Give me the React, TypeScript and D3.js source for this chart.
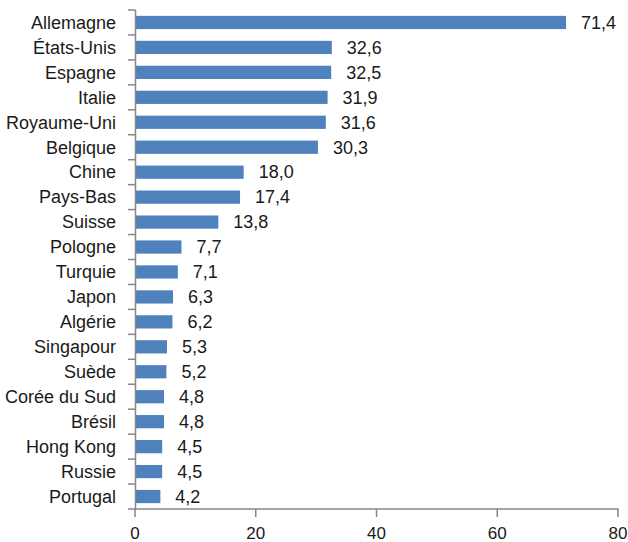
import { useRef, useEffect } from 'react';
import * as d3 from 'd3';

const countries = [
  'Allemagne', 'États-Unis', 'Espagne', 'Italie', 'Royaume-Uni', 'Belgique',
  'Chine', 'Pays-Bas', 'Suisse', 'Pologne', 'Turquie', 'Japon', 'Algérie',
  'Singapour', 'Suède', 'Corée du Sud', 'Brésil', 'Hong Kong', 'Russie', 'Portugal',
];
const values = [71.4, 32.6, 32.5, 31.9, 31.6, 30.3, 18.0, 17.4, 13.8, 7.7, 7.1, 6.3, 6.2, 5.3, 5.2, 4.8, 4.8, 4.5, 4.5, 4.2];
const xTicks = [0, 20, 40, 60, 80];

const width = 628;
const height = 542;
const font = '"Liberation Sans Narrow", "Arial Narrow", "Liberation Sans", sans-serif';

export default function App() {
  const svgRef = useRef<SVGSVGElement>(null);

  useEffect(() => {
    const svg = d3.select(svgRef.current);
    svg.selectAll('*').remove();

    const x = d3.scaleLinear().domain([0, 80]).range([135, 618]);
    const y = d3.scaleBand().domain(countries).range([10, 509]).paddingInner(0.47).paddingOuter(0.235);
    const axisColor = '#868686';

    // bars
    svg.append('g')
      .selectAll('rect')
      .data(countries)
      .join('rect')
      .attr('x', x(0))
      .attr('y', (d) => y(d)!)
      .attr('width', (d, i) => x(values[i]) - x(0))
      .attr('height', y.bandwidth())
      .attr('fill', '#4f81bd');

    // value labels
    svg.append('g')
      .selectAll('text')
      .data(countries)
      .join('text')
      .attr('x', (d, i) => x(values[i]) + 15)
      .attr('y', (d) => y(d)! + y.bandwidth() / 2)
      .attr('dy', '0.35em')
      .attr('font-family', font)
      .attr('font-size', 18)
      .attr('fill', '#1a1a1a')
      .text((d, i) => d3.format('.1f')(values[i]).replace('.', ','));

    // category labels
    svg.append('g')
      .selectAll('text')
      .data(countries)
      .join('text')
      .attr('x', 116)
      .attr('y', (d) => y(d)! + y.bandwidth() / 2)
      .attr('dy', '0.35em')
      .attr('text-anchor', 'end')
      .attr('font-family', font)
      .attr('font-size', 18)
      .attr('fill', '#1a1a1a')
      .text((d) => d);

    // y axis line + ticks at band edges
    const edges = d3.range(countries.length + 1).map((i) => 10 + i * y.step());
    svg.append('line')
      .attr('x1', 135.5).attr('x2', 135.5)
      .attr('y1', 10).attr('y2', 509)
      .attr('stroke', axisColor).attr('stroke-width', 1.5);
    svg.append('g')
      .selectAll('line')
      .data(edges)
      .join('line')
      .attr('x1', 128).attr('x2', 135.5)
      .attr('y1', (d) => d).attr('y2', (d) => d)
      .attr('stroke', axisColor).attr('stroke-width', 1.5);

    // x axis
    svg.append('line')
      .attr('x1', 135).attr('x2', 618.5)
      .attr('y1', 509).attr('y2', 509)
      .attr('stroke', axisColor).attr('stroke-width', 1.5);
    const xt = svg.append('g')
      .selectAll('g')
      .data(xTicks)
      .join('g')
      .attr('transform', (d) => `translate(${x(d)},0)`);
    xt.append('line')
      .attr('y1', 509).attr('y2', 517)
      .attr('stroke', axisColor).attr('stroke-width', 1.5);
    xt.append('text')
      .attr('y', 533)
      .attr('dy', '0.35em')
      .attr('text-anchor', 'middle')
      .attr('font-family', font)
      .attr('font-size', 17)
      .attr('fill', '#1a1a1a')
      .text((d) => d);
  }, []);

  return (
    <div>
      <svg ref={svgRef} width={width} height={height} style={{ position: 'absolute', left: 0, top: 0, background: '#fff' }} />
    </div>
  );
}
